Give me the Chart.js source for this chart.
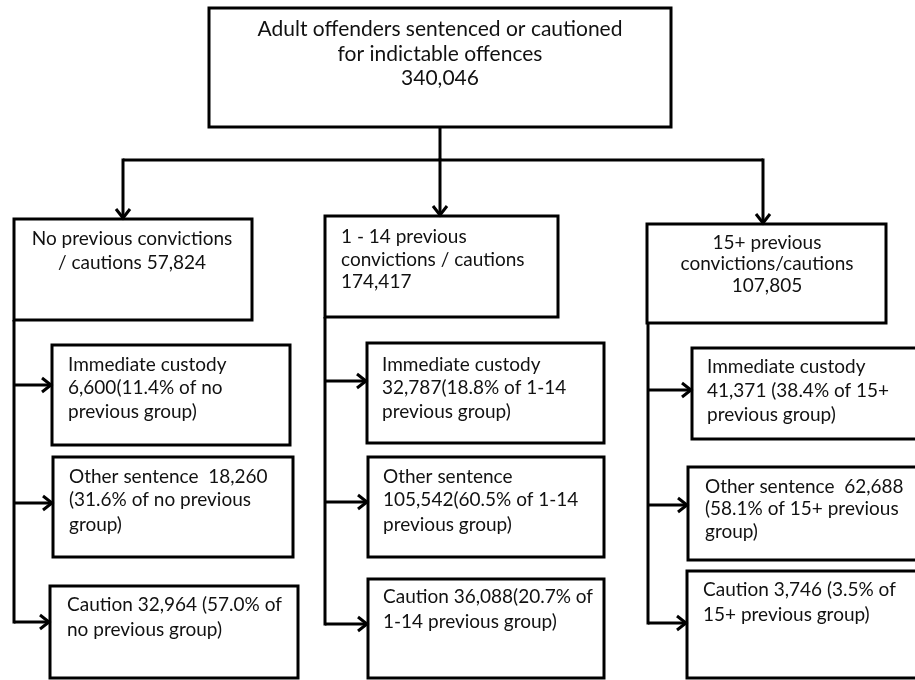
<!DOCTYPE html>
<html>
<head>
<meta charset="utf-8">
<script src="https://cdn.jsdelivr.net/npm/chart.js@4.4.1/dist/chart.umd.min.js"></script>
<style>
  html, body { margin: 0; padding: 0; background: #ffffff; }
  #wrap { width: 915px; height: 680px; }
</style>
</head>
<body>
<div id="wrap"><canvas id="c" width="915" height="680"></canvas></div>
<script>
// ---- DATA ----
const totalTitle = ['Adult offenders sentenced or cautioned', 'for indictable offences'];
const totalAll = 340046;
const groupNames = ['No previous convictions', '1 - 14 previous', '15+ previous'];
const groupTotals = [57824, 174417, 107805];
const groupShort = ['no', '1-14', '15+'];
const outcomes = ['Immediate custody', 'Other sentence', 'Caution'];
const custody = [6600, 32787, 41371];
const custodyPct = [11.4, 18.8, 38.4];
const otherSent = [18260, 105542, 62688];
const otherPct = [31.6, 60.5, 58.1];
const caution = [32964, 36088, 3746];
const cautionPct = [57.0, 20.7, 3.5];

const fmt = n => n.toLocaleString('en-GB');
const pc = p => p.toFixed(1) + '%';

// text lines for each box (line breaks follow the reference)
const texts = {
  top: [totalTitle[0], totalTitle[1], fmt(totalAll)],
  g0: [groupNames[0], '/ cautions ' + fmt(groupTotals[0])],
  g1: [groupNames[1], 'convictions / cautions', fmt(groupTotals[1])],
  g2: [groupNames[2], 'convictions/cautions', fmt(groupTotals[2])],
  a0: [outcomes[0], fmt(custody[0]) + '(' + pc(custodyPct[0]) + ' of ' + groupShort[0], 'previous group)'],
  b0: [outcomes[1] + '  ' + fmt(otherSent[0]), '(' + pc(otherPct[0]) + ' of ' + groupShort[0] + ' previous', 'group)'],
  c0: [outcomes[2] + ' ' + fmt(caution[0]) + ' (' + pc(cautionPct[0]) + ' of', groupShort[0] + ' previous group)'],
  a1: [outcomes[0], fmt(custody[1]) + '(' + pc(custodyPct[1]) + ' of ' + groupShort[1], 'previous group)'],
  b1: [outcomes[1], fmt(otherSent[1]) + '(' + pc(otherPct[1]) + ' of ' + groupShort[1], 'previous group)'],
  c1: [outcomes[2] + ' ' + fmt(caution[1]) + '(' + pc(cautionPct[1]) + ' of', groupShort[1] + ' previous group)'],
  a2: [outcomes[0], fmt(custody[2]) + ' (' + pc(custodyPct[2]) + ' of ' + groupShort[2], 'previous group)'],
  b2: [outcomes[1] + '  ' + fmt(otherSent[2]), '(' + pc(otherPct[2]) + ' of ' + groupShort[2] + ' previous', 'group)'],
  c2: [outcomes[2] + ' ' + fmt(caution[2]) + ' (' + pc(cautionPct[2]) + ' of', groupShort[2] + ' previous group)']
};

// ---- LAYOUT (positions in scale units) ----
const boxes = {
  top: { x0: 209, y0: 8,   x1: 671, y1: 127, align: 'center', tx: 440, ly: [29, 54, 78], size: 21 },
  g0:  { x0: 14,  y0: 219, x1: 252, y1: 320, align: 'center', tx: 132, ly: [239, 263] },
  g1:  { x0: 325, y0: 216, x1: 558, y1: 317, align: 'left',   tx: 341, ly: [237, 260, 282] },
  g2:  { x0: 647, y0: 224, x1: 886, y1: 323, align: 'center', tx: 767, ly: [243, 264, 286] },
  a0:  { x0: 52,  y0: 345, x1: 290, y1: 445, align: 'left', tx: 68,  ly: [365, 388, 412] },
  b0:  { x0: 53,  y0: 457, x1: 293, y1: 557, align: 'left', tx: 69,  ly: [477, 500, 525] },
  c0:  { x0: 50,  y0: 586, x1: 298, y1: 678, align: 'left', tx: 67,  ly: [605, 630] },
  a1:  { x0: 367, y0: 343, x1: 604, y1: 443, align: 'left', tx: 382, ly: [365, 388, 412] },
  b1:  { x0: 368, y0: 457, x1: 604, y1: 557, align: 'left', tx: 383, ly: [477, 500, 525] },
  c1:  { x0: 368, y0: 579, x1: 604, y1: 678, align: 'left', tx: 383, ly: [597, 622] },
  a2:  { x0: 692, y0: 348, x1: 930, y1: 439, align: 'left', tx: 707, ly: [367, 391, 415] },
  b2:  { x0: 688, y0: 467, x1: 930, y1: 560, align: 'left', tx: 705, ly: [487, 509, 532] },
  c2:  { x0: 687, y0: 571, x1: 930, y1: 678, align: 'left', tx: 703, ly: [590, 615] }
};
// connector geometry
const trunkTop = { x: 440, y0: 127, y1: 160 };
const busY = 160;
const drops = [ { x: 123, y1: 219 }, { x: 440, y1: 216 }, { x: 763, y1: 224 } ];
const stems = [
  { x: 14,  y0: 320, y1: 622, arrows: [ {y: 385, x1: 52}, {y: 503, x1: 53}, {y: 622, x1: 50} ] },
  { x: 325, y0: 317, y1: 624, arrows: [ {y: 381, x1: 367}, {y: 502, x1: 368}, {y: 624, x1: 368} ] },
  { x: 648, y0: 323, y1: 623, arrows: [ {y: 390, x1: 692}, {y: 505, x1: 688}, {y: 623, x1: 687} ] }
];

const FAMILY = 'Lato, "Open Sans", sans-serif';
const BASE_SIZE = 19;
const LW = 3;

const flowPlugin = {
  id: 'flow',
  afterDraw(chart) {
    const ctx = chart.ctx;
    const X = v => chart.scales.x.getPixelForValue(v);
    const Y = v => chart.scales.y.getPixelForValue(v);
    ctx.save();
    ctx.strokeStyle = '#000';
    ctx.lineWidth = LW;
    ctx.lineCap = 'butt';
    ctx.lineJoin = 'miter';

    const line = (x0, y0, x1, y1) => {
      ctx.beginPath(); ctx.moveTo(X(x0), Y(y0)); ctx.lineTo(X(x1), Y(y1)); ctx.stroke();
    };
    const headDown = (x, y) => {
      ctx.beginPath();
      ctx.moveTo(X(x - 7), Y(y - 9)); ctx.lineTo(X(x), Y(y)); ctx.lineTo(X(x + 7), Y(y - 9));
      ctx.stroke();
    };
    const headRight = (x, y) => {
      ctx.beginPath();
      ctx.moveTo(X(x - 9), Y(y - 7)); ctx.lineTo(X(x), Y(y)); ctx.lineTo(X(x - 9), Y(y + 7));
      ctx.stroke();
    };

    // boxes
    Object.keys(boxes).forEach(k => {
      const b = boxes[k];
      ctx.strokeRect(X(b.x0), Y(b.y0), X(b.x1) - X(b.x0), Y(b.y1) - Y(b.y0));
    });

    // top connector + bus
    line(trunkTop.x, trunkTop.y0, trunkTop.x, trunkTop.y1);
    ctx.beginPath();
    ctx.moveTo(X(drops[0].x), Y(busY)); ctx.lineTo(X(drops[2].x), Y(busY));
    ctx.stroke();
    drops.forEach(d => {
      line(d.x, busY - 1.5, d.x, d.y1 - 1);
      headDown(d.x, d.y1 - 1);
    });

    // stems + arrows to outcome boxes
    stems.forEach(s => {
      line(s.x, s.y0, s.x, s.y1 + 1.5);
      s.arrows.forEach(a => {
        line(s.x, a.y, a.x1 - 1, a.y);
        headRight(a.x1 - 1, a.y);
      });
    });

    // texts
    ctx.fillStyle = '#111';
    ctx.textBaseline = 'middle';
    Object.keys(boxes).forEach(k => {
      const b = boxes[k];
      ctx.font = (b.size || BASE_SIZE) + 'px ' + FAMILY;
      ctx.textAlign = b.align;
      texts[k].forEach((t, i) => ctx.fillText(t, X(b.tx), Y(b.ly[i])));
    });
    ctx.restore();
  }
};

new Chart(document.getElementById('c'), {
  type: 'scatter',
  data: { datasets: [{ data: [], pointRadius: 0 }] },
  options: {
    responsive: false,
    animation: false,
    layout: { padding: 0 },
    plugins: { legend: { display: false }, tooltip: { enabled: false }, title: { display: false } },
    scales: {
      x: { type: 'linear', min: 0, max: 915, display: false },
      y: { type: 'linear', min: 0, max: 680, reverse: true, display: false }
    }
  },
  plugins: [flowPlugin]
});
</script>
</body>
</html>
